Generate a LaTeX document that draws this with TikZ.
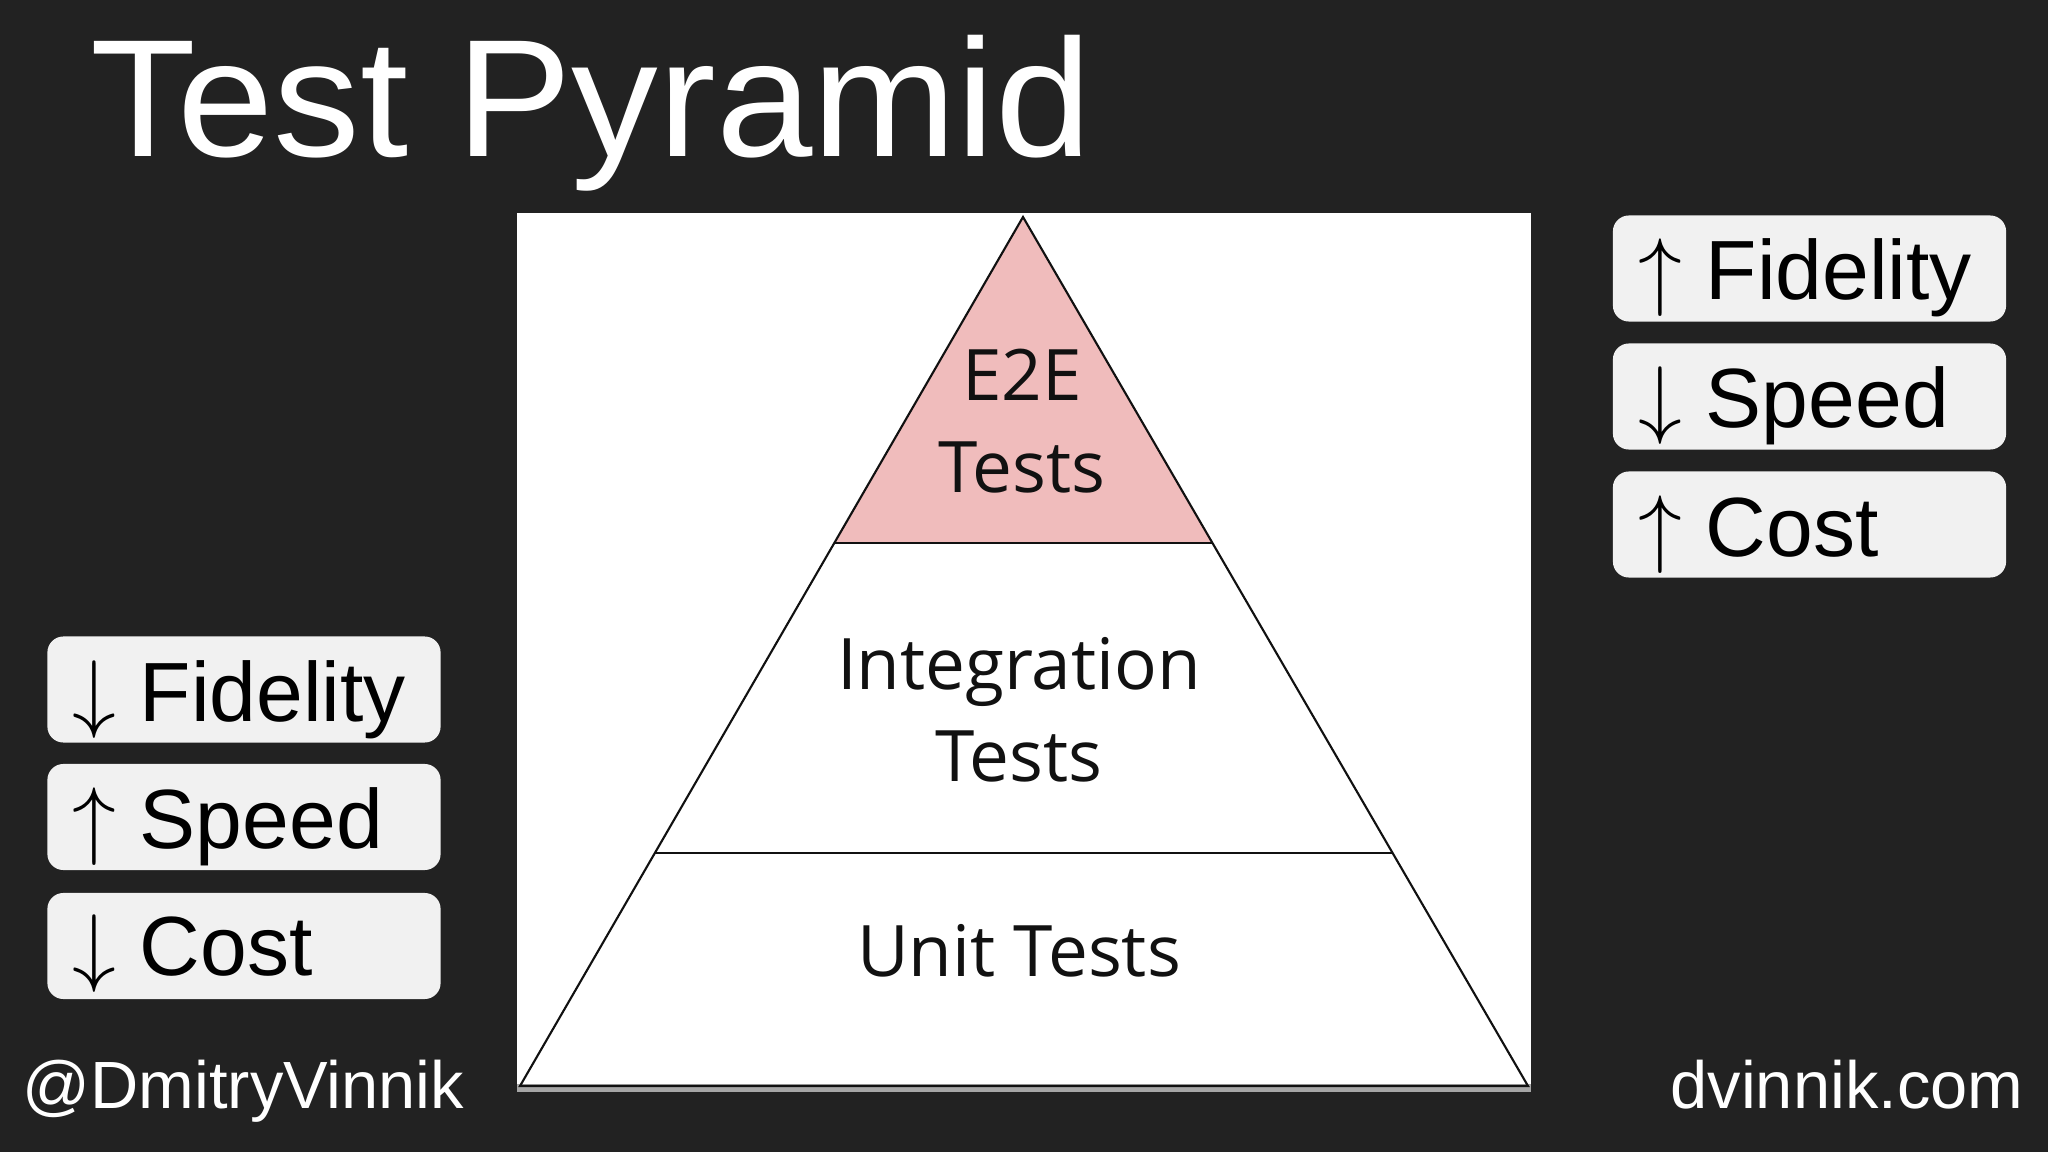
\documentclass[tikz,border=0pt]{standalone}
\usepackage{graphicx}
\usepackage{fontspec}
\setmainfont{Liberation Sans}
\newfontfamily\pyrfont{Open Sans}
\usetikzlibrary{calc}
\definecolor{bg}{HTML}{222222}
\definecolor{boxfill}{HTML}{F1F1F1}
\definecolor{e2efill}{HTML}{F0BCBC}
\definecolor{ink}{HTML}{111111}
\newcommand{\tagup}{$\uparrow$}
\newcommand{\tagdown}{$\downarrow$}
\tikzset{
  tagbox/.style={fill=boxfill, draw=none, rounded corners=0.16cm, minimum width=3.93cm, minimum height=1.06cm, inner sep=0pt},
  tagtext/.style={anchor=base west, inner sep=0pt, text=black, font=\fontsize{23.9}{28}\selectfont},
  pyrtext/.style={inner sep=0pt, text=ink, align=center, font=\pyrfont\fontsize{20.2}{26.3}\selectfont},
  pyrline/.style={draw=ink, line width=0.6pt},
  foot/.style={inner sep=0pt, text=white, font=\fontsize{19}{23}\selectfont},
}
\begin{document}
\begin{tikzpicture}[x=0.01cm,y=-0.01cm]
\fill[bg] (0,0) rectangle (2048,1152);
\useasboundingbox (0,0) rectangle (2048,1152);

% title
\node[inner sep=0pt, anchor=base west, text=white, font=\fontsize{47.6}{56}\selectfont] (title) at (90,157) {\scalebox{1.035}[1]{Test Pyramid}};

% pyramid picture
\fill[white] (517,213) rectangle (1531,1084);
\fill[gray!70] (517,1084) rectangle (1531,1092);
\coordinate (apex) at (1023,217);
\coordinate (bl) at (520,1086);
\coordinate (br) at (1528,1086);
\coordinate (e2eL) at ($(apex)!0.3747!(bl)$);
\coordinate (e2eR) at ($(apex)!0.3747!(br)$);
\coordinate (intL) at ($(apex)!0.7322!(bl)$);
\coordinate (intR) at ($(apex)!0.7322!(br)$);
\fill[e2efill] (apex) -- (e2eL) -- (e2eR) -- cycle;
\draw[pyrline, line join=miter] (apex) -- (bl) -- (br) -- cycle;
\draw[pyrline] (e2eL) -- (e2eR);
\draw[pyrline] (intL) -- (intR);
\node[pyrtext] (e2e) at (1022,421) {E2E\\Tests};
\node[pyrtext] (integ) at (1019,710) {Integration\\Tests};
\node[pyrtext, anchor=base] (unit) at (1019,976) {Unit Tests};

% right tags
\node[tagbox] (r1) at (1809.5,268.5) {};
\node[tagbox] (r2) at (1809.5,396.5) {};
\node[tagbox] (r3) at (1809.5,524.5) {};
\node[tagtext] (r1t) at (1638,300) {\tagup{} Fidelity};
\node[tagtext] (r2t) at (1638,428) {\tagdown{} Speed};
\node[tagtext] (r3t) at (1638,557) {\tagup{} Cost};

% left tags
\node[tagbox] (l1) at (244,689.5) {};
\node[tagbox] (l2) at (244,817) {};
\node[tagbox] (l3) at (244,946) {};
\node[tagtext] (l1t) at (72,721) {\tagdown{} Fidelity};
\node[tagtext] (l2t) at (72,848) {\tagup{} Speed};
\node[tagtext] (l3t) at (72,975) {\tagdown{} Cost};

% footer
\node[foot, anchor=base west] (handle) at (22,1108) {@DmitryVinnik};
\node[foot, anchor=base east] (site) at (2024,1108) {dvinnik.com};
\end{tikzpicture}
\end{document}
